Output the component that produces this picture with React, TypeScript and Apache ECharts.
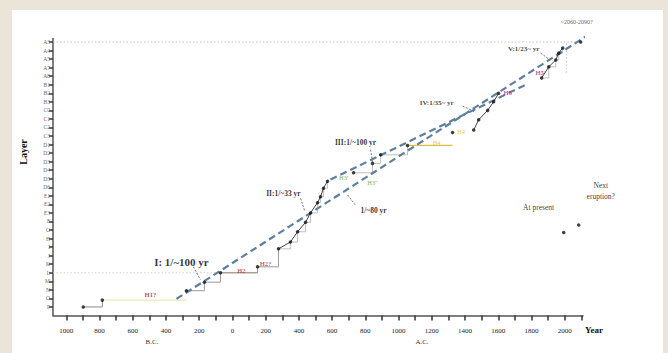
import React, { useEffect, useRef } from "react";
import * as echarts from "echarts";

// ---------- data ----------
const layerLabels = [
  "P", "O", "N", "M", "L", "K", "J", "I", "H", "G", "F", "E3", "E2", "E1", "D6", "D5",
  "D4", "D3", "D2", "D1", "C3", "C2", "C1", "C0", "B3", "B2", "B1", "A8", "A7", "A5", "A4", "A3",
];
const layerTicks = [
  0, 1, 2, 3, 4, 5, 6, 7, 8, 9, 10, 11, 12, 13, 14, 15,
  16, 17, 18, 19, 20, 21, 22, 23, 24, 25, 26, 27, 28, 29, 30, 31,
];
const tickYears = [
  -1000, -900, -800, -700, -600, -500, -400, -300, -200, -100, 0, 100, 200, 300, 400, 500,
  600, 700, 800, 900, 1000, 1100, 1200, 1300, 1400, 1500, 1600, 1700, 1800, 1900, 2000, 2100,
];
const labelYears = [-1000, -800, -600, -400, -200, 0, 200, 400, 600, 800, 1000, 1200, 1400, 1600, 1800, 2000];

// eruptions (year, layer position)
const earlyYears = [-898, -783];
const earlyLayers = [0, 0.8];
const stageIYears = [-277, -169, -72, 151];
const stageILayers = [1.9, 2.9, 4.0, 4.7];
const stageIIYears = [277, 349, 392, 440, 470, 512, 530, 548, 572];
const stageIILayers = [6.8, 7.6, 8.8, 9.9, 11.0, 12.2, 12.9, 13.9, 14.7];
const stageIIIYears = [729, 843, 892, 1054];
const stageIIILayers = [15.7, 16.8, 17.8, 18.9];
const stageIVYears = [1325, 1452, 1482, 1536, 1572, 1602];
const stageIVLayers = [20.4, 20.7, 21.9, 23.0, 24.0, 25.0];
const stageVYears = [1861, 1904, 1946, 1964, 1988];
const stageVLayers = [26.8, 28.1, 28.9, 29.7, 30.3];
const latestYear = 2096;
const latestLayer = 31;
const presentYears = [1994, 2084];
const presentLayers = [8.7, 9.6];

// trend lines
const trend80Years = [-337, 2139];
const trend80Layers = [0.94, 31.8];
const trend100Years = [590, 1765];
const trend100Layers = [14.9, 26.0];

// horizontal eruption bands
const h1Years = [-783, -277];
const h1Layer = 0.8;
const h2Years = [-72, 151];
const h2Layer = 4.0;
const h4Years = [1054, 1325];
const h4Layer = 18.9;

// ---------- annotations (anchored in data coords) ----------
type Note = { text: string; year: number; layer: number; kind: string };
const notes: Note[] = [
  { text: "I: 1/~100 yr", year: -307, layer: 5.3, kind: "big" },
  { text: "II:1/~33 yr", year: 307, layer: 13.3, kind: "mid" },
  { text: "III:1/~100 yr", year: 741, layer: 19.3, kind: "mid" },
  { text: "1/~80 yr", year: 849, layer: 11.3, kind: "mid" },
  { text: "IV:1/35~ yr", year: 1229, layer: 23.9, kind: "small" },
  { text: "V:1/23~ yr", year: 1753, layer: 30.2, kind: "small" },
  { text: "~2060-2090?", year: 2072, layer: 33.3, kind: "tiny" },
  { text: "At present", year: 1843, layer: 11.6, kind: "plain" },
  { text: "Next\neruption?", year: 2217, layer: 13.6, kind: "plain" },
  { text: "H1?", year: -494, layer: 1.4, kind: "h1" },
  { text: "H2", year: 54, layer: 4.3, kind: "h2" },
  { text: "H2?", year: 199, layer: 5.1, kind: "h2" },
  { text: "H3'", year: 669, layer: 15.2, kind: "h3" },
  { text: "H3''", year: 843, layer: 14.6, kind: "h3" },
  { text: "H4", year: 1229, layer: 19.3, kind: "h4" },
  { text: "H4'", year: 1380, layer: 20.5, kind: "h4" },
  { text: "H5", year: 1657, layer: 25.1, kind: "h5" },
  { text: "H5'", year: 1855, layer: 27.4, kind: "h5" },
];

const pointerYears = [
  [-235, -193], [410, 434], [831, 843], [693, 741], [1386, 1464], [1855, 1898], [2139, 2139], [2175, 2175],
];
const pointerLayers = [
  [4.7, 3.2], [12.7, 11.3], [18.4, 17.0], [13.1, 11.9], [23.5, 22.8], [29.7, 29.1], [32.6, 31.6], [12.5, 9.8],
];

const SERIF = "'Liberation Serif', 'DejaVu Serif', serif";

const noteStyles: Record<string, any> = {
  big: { fontSize: 11, fontWeight: "bold", color: "#000" },
  mid: { fontSize: 7.5, fontWeight: "bold", color: "#000" },
  small: { fontSize: 7, fontWeight: "bold", color: "#111" },
  tiny: { fontSize: 6, color: "#333" },
  plain: { fontSize: 7.5, color: "#000", lineHeight: 11 },
  h1: { fontSize: 6.5, color: "#9b2040", fontWeight: "bold" },
  h2: { fontSize: 6.5, color: "#c0303a", fontWeight: "bold" },
  h3: { fontSize: 6.5, color: "#5e9a3a" },
  h4: { fontSize: 6.5, color: "#e0c020" },
  h5: { fontSize: 6.5, color: "#b0279e", fontWeight: "bold" },
};

const zip = (xs: number[], ys: number[]) => xs.map((x, i) => [x, ys[i]]);

function buildOption(): any {
  const allDots = [
    ...zip(earlyYears, earlyLayers),
    ...zip(stageIYears, stageILayers),
    ...zip(stageIIYears, stageIILayers),
    ...zip(stageIIIYears, stageIIILayers),
    ...zip(stageIVYears, stageIVLayers),
    ...zip(stageVYears, stageVLayers),
    [latestYear, latestLayer],
    ...zip(presentYears, presentLayers),
  ];

  const line = (data: number[][], style: any, extra: any = {}) => ({
    type: "line",
    data,
    symbol: "none",
    silent: true,
    clip: false,
    lineStyle: style,
    z: 3,
    ...extra,
  });

  const series: any[] = [];

  // dotted guide lines
  series.push(line([[-1080, latestLayer], [latestYear, latestLayer]], { color: "#c4c4c4", width: 1, type: [1.5, 2] }));
  series.push(line([[-1080, h2Layer], [stageIYears[2], h2Layer]], { color: "#d2d2d2", width: 1, type: [1.5, 2] }));
  series.push(line([[2010, 27.4], [2010, latestLayer]], { color: "#c4c4c4", width: 1, type: [1.5, 2] }));

  // coloured eruption bands
  series.push(line(h1Years.map((y) => [y, h1Layer]), { color: "#eee3a8", width: 1 }));
  series.push(line(h2Years.map((y) => [y, h2Layer]), { color: "#b89a80", width: 1 }));
  series.push(line(h4Years.map((y) => [y, h4Layer]), { color: "#d9c23a", width: 1.2 }));

  // step lines
  series.push(line(zip(earlyYears, earlyLayers), { color: "#8a8a8a", width: 1 }, { step: "end" }));
  series.push(
    line([...zip(stageIYears, stageILayers), [stageIIYears[0], stageIILayers[0]]], { color: "#9a9a9a", width: 1 }, { step: "end" })
  );
  series.push(line(zip(stageIIYears, stageIILayers), { color: "#b0b0b0", width: 0.8 }, { step: "end" }));
  series.push(line(zip(stageIIIYears, stageIIILayers), { color: "#b0b0b0", width: 0.8 }, { step: "end" }));
  series.push(line(zip(stageVYears, stageVLayers), { color: "#b0b0b0", width: 0.8 }, { step: "end" }));

  // trend dashed lines
  series.push(line(zip(trend80Years, trend80Layers), { color: "#5f7f9f", width: 2.2, type: [7, 4] }, { z: 4 }));
  series.push(line(zip(trend100Years, trend100Layers), { color: "#5f7f9f", width: 2.2, type: [7, 4] }, { z: 4 }));

  // solid stage lines
  series.push(line(zip(stageIIYears, stageIILayers), { color: "#444", width: 1 }, { z: 5 }));
  series.push(line(zip(stageIVYears.slice(1), stageIVLayers.slice(1)), { color: "#444", width: 1 }, { z: 5 }));
  series.push(line(zip(stageVYears, stageVLayers), { color: "#444", width: 1 }, { z: 5 }));

  // pointers
  pointerYears.forEach((ys, i) => {
    series.push(line(zip(ys, pointerLayers[i]), { color: "#666", width: 0.9, type: [2, 1.5] }));
  });

  // dots
  series.push({
    type: "scatter",
    data: allDots,
    symbolSize: 3.5,
    itemStyle: { color: "#111" },
    silent: true,
    clip: false,
    z: 6,
  });

  // annotation labels
  series.push({
    type: "scatter",
    symbolSize: 0,
    silent: true,
    clip: false,
    z: 7,
    itemStyle: { color: "transparent" },
    data: notes.map((n) => ({
      value: [n.year, n.layer],
      label: {
        show: true,
        position: "inside",
        formatter: n.text,
        fontFamily: SERIF,
        textBorderWidth: 0,
        textShadowBlur: 0,
        ...noteStyles[n.kind],
      },
    })),
  });

  return {
    animation: false,
    backgroundColor: "transparent",
    grid: { left: 53, right: 85, top: 38.6, bottom: 37.5 },
    xAxis: {
      type: "value",
      min: -1080,
      max: 2110,
      splitLine: { show: false },
      axisLine: { onZero: false, lineStyle: { color: "#555", width: 1.5 } },
      axisTick: { customValues: tickYears, length: 5, lineStyle: { color: "#333", width: 1.5 } },
      axisLabel: {
        customValues: labelYears,
        formatter: (v: number) => String(Math.abs(v)),
        fontSize: 7,
        fontFamily: SERIF,
        color: "#222",
        margin: 12,
      },
    },
    yAxis: {
      type: "value",
      min: -1,
      max: 31.4,
      splitLine: { show: false },
      axisLine: { show: true, onZero: false, lineStyle: { color: "#555", width: 1.5 } },
      axisTick: { show: true, customValues: layerTicks, length: 4, lineStyle: { color: "#333", width: 1.5 } },
      axisLabel: {
        customValues: layerTicks,
        formatter: (v: number) => layerLabels[Math.round(v)] ?? "",
        fontSize: 5.5,
        fontFamily: SERIF,
        color: "#666",
        margin: 3,
      },
    },
    graphic: [
      {
        type: "text",
        x: 23,
        y: 152,
        rotation: Math.PI / 2,
        style: { text: "Layer", font: `bold 10px ${SERIF}`, fill: "#111", textAlign: "center", textVerticalAlign: "middle" },
      },
      {
        type: "text",
        x: 585,
        y: 330,
        style: { text: "Year", font: `bold 9px ${SERIF}`, fill: "#111", textAlign: "left", textVerticalAlign: "middle" },
      },
      {
        type: "text",
        x: 152,
        y: 342,
        style: { text: "B.C.", font: `7px ${SERIF}`, fill: "#333", textAlign: "center", textVerticalAlign: "middle" },
      },
      {
        type: "text",
        x: 422,
        y: 342,
        style: { text: "A.C.", font: `7px ${SERIF}`, fill: "#333", textAlign: "center", textVerticalAlign: "middle" },
      },
    ],
    series,
  };
}

export default function App() {
  const ref = useRef<HTMLDivElement>(null);
  useEffect(() => {
    if (!ref.current) return;
    const chart = echarts.init(ref.current, undefined, { renderer: "svg" });
    chart.setOption(buildOption());
    return () => chart.dispose();
  }, []);
  return (
    <div style={{ position: "fixed", left: 0, top: 0, width: 668, height: 353, background: "#ebe4d8" }}>
      <div style={{ position: "absolute", left: 12, top: 10, width: 651, height: 343, background: "#ffffff" }} />
      <div ref={ref} style={{ position: "absolute", left: 0, top: 0, width: 668, height: 353 }} />
    </div>
  );
}
